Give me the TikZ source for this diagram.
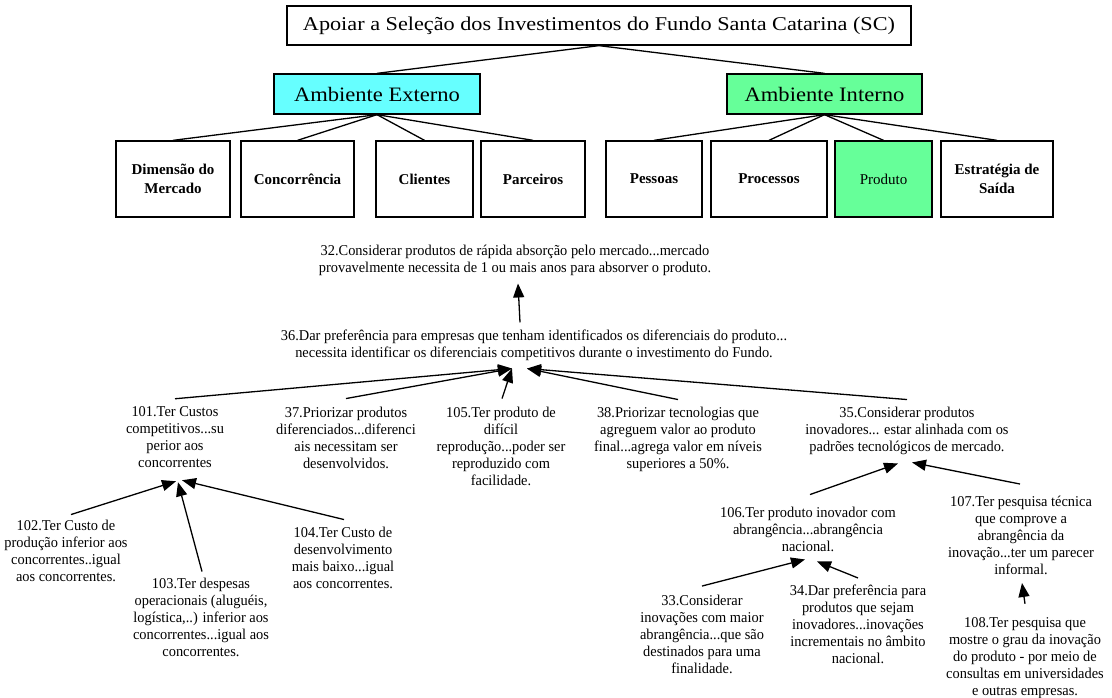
\documentclass[tikz,border=0pt]{standalone}
\usepackage{fontspec}
\setmainfont{Liberation Serif}
\newfontfamily\condfont{Liberation Serif}[FakeStretch=0.96]
\newfontfamily\widefont{Liberation Serif}[FakeStretch=1.1]
\newfontfamily\headfont{Liberation Serif}[FakeStretch=1.14]
\usetikzlibrary{arrows.meta}
\definecolor{extcyan}{HTML}{66FFFF}
\definecolor{intgreen}{HTML}{66FF99}
\tikzset{
  frame/.style={draw, line width=1.3pt, inner sep=0pt, align=center},
  headbox/.style={frame, font=\headfont\fontsize{19.5}{22}\selectfont},
  groupbox/.style={frame, minimum height=40pt, font=\widefont\fontsize{20.5}{23}\selectfont},
  leafbox/.style={frame, minimum height=76pt, font=\bfseries\fontsize{15}{19}\selectfont},
  note/.style={align=center, inner sep=0pt,
    font=\condfont\fontsize{15}{17}\selectfont,
    execute at begin node=\strut, execute at end node=\strut},
  link/.style={line width=1.3pt},
  arr/.style={line width=1.3pt, -{Triangle[length=14pt,width=11pt]}}
}
\begin{document}
\begin{tikzpicture}[x=1pt,y=-1pt]
\useasboundingbox[fill=white] (0,0) rectangle (1112,698);

% hierarchy of boxes
\node[headbox, minimum width=624pt, minimum height=39pt] (goal) at (599,25.5)
  {Apoiar a Seleção dos Investimentos do Fundo Santa Catarina (SC)};
\node[groupbox, fill=extcyan, minimum width=206pt] (ext) at (377,94) {Ambiente Externo};
\node[groupbox, fill=intgreen, minimum width=195pt] (int) at (824.5,94) {Ambiente Interno};

\node[leafbox, minimum width=114pt] (dim) at (173,179) {Dimensão do\\Mercado};
\node[leafbox, minimum width=113pt] (conc) at (297.5,179) {Concorrência};
\node[leafbox, minimum width=97pt] (cli) at (424.5,179) {Clientes};
\node[leafbox, minimum width=104pt] (parc) at (533,179) {Parceiros};
\node[leafbox, minimum width=96pt] (pess) at (654,179) {Pessoas};
\node[leafbox, minimum width=116pt] (proc) at (769,179) {Processos};
\node[leafbox, minimum width=97pt, fill=intgreen, font=\fontsize{15}{19}\selectfont] (prod) at (883.5,179) {Produto};
\node[leafbox, minimum width=112pt] (estr) at (997,179) {Estratégia de\\Saída};

\draw[link] (goal.south) -- (ext.north);
\draw[link] (goal.south) -- (int.north);
\foreach \t in {dim,conc,cli,parc} \draw[link] (ext.south) -- (\t.north);
\foreach \t in {pess,proc,prod,estr} \draw[link] (int.south) -- (\t.north);

% means-ends network
\node[note] (n32) at (515,261) {32.Considerar produtos de rápida absorção pelo mercado...mercado\\provavelmente necessita de 1 ou mais anos para absorver o produto.};
\node[note] (n36) at (534,346) {36.Dar preferência para empresas que tenham identificados os diferenciais do produto...\\necessita identificar os diferenciais competitivos durante o investimento do Fundo.};

\node[note] (n101) at (175,440) {101.Ter Custos\\competitivos...su\\perior aos\\concorrentes};
\node[note] (n37) at (346,440) {37.Priorizar produtos\\diferenciados...diferenci\\ais necessitam ser\\desenvolvidos.};
\node[note] (n105) at (501,448.5) {105.Ter produto de\\difícil\\reprodução...poder ser\\reproduzido com\\facilidade.};
\node[note] (n38) at (678,440) {38.Priorizar tecnologias que\\agreguem valor ao produto\\final...agrega valor em níveis\\superiores a 50\%.};
\node[note] (n35) at (907,431.5) {35.Considerar produtos\\inovadores... estar alinhada com os\\padrões tecnológicos de mercado.};

\node[note] (n102) at (66,553) {102.Ter Custo de\\produção inferior aos\\concorrentes..igual\\aos concorrentes.};
\node[note] (n103) at (201,619.5) {103.Ter despesas\\operacionais (aluguéis,\\logística,..) inferior aos\\concorrentes...igual aos\\concorrentes.};
\node[note] (n104) at (343,560) {104.Ter Custo de\\desenvolvimento\\mais baixo...igual\\aos concorrentes.};

\node[note] (n106) at (808,531.5) {106.Ter produto inovador com\\abrangência...abrangência\\nacional.};
\node[note] (n107) at (1021,538) {107.Ter pesquisa técnica\\que comprove a\\abrangência da\\inovação...ter um parecer\\informal.};
\node[note] (n33) at (702,637) {33.Considerar\\inovações com maior\\abrangência...que são\\destinados para uma\\finalidade.};
\node[note] (n34) at (858,627) {34.Dar preferência para\\produtos que sejam\\inovadores...inovações\\incrementais no âmbito\\nacional.};
\node[note] (n108) at (1025,659.5) {108.Ter pesquisa que\\mostre o grau da inovação\\do produto - por meio de\\consultas em universidades\\e outras empresas.};

% arrows: from a means up to the end it serves
\draw[arr] ([xshift=-14pt,yshift=7pt]n36.north) -- ([xshift=3pt,yshift=-6pt]n32.south);

\draw[arr] ([yshift=8pt]n101.north) -- ([xshift=-22pt,yshift=-6pt]n36.south);
\draw[arr] ([yshift=8pt]n37.north) -- ([xshift=-22pt,yshift=-6pt]n36.south);
\draw[arr] ([xshift=1pt,yshift=8pt]n105.north) -- ([xshift=-22pt,yshift=-6pt]n36.south);
\draw[arr] ([yshift=7pt]n38.north) -- ([xshift=-7pt,yshift=-6pt]n36.south);
\draw[arr] ([yshift=7pt]n35.north) -- ([xshift=-7pt,yshift=-6pt]n36.south);

\draw[arr] ([xshift=5pt,yshift=5pt]n102.north) -- ([xshift=1pt,yshift=-8pt]n101.south);
\draw[arr] ([xshift=1pt,yshift=6pt]n103.north) -- ([xshift=3pt,yshift=-9pt]n101.south);
\draw[arr] ([xshift=1pt,yshift=7pt]n104.north) -- ([xshift=7pt,yshift=-7pt]n101.south);

\draw[arr] ([xshift=2pt,yshift=12pt]n106.north) -- ([xshift=-9pt,yshift=-7pt]n35.south);
\draw[arr] ([xshift=-1pt,yshift=12pt]n107.north) -- ([xshift=5pt,yshift=-6pt]n35.south);

\draw[arr] ([yshift=9pt]n33.north) -- ([xshift=-3pt,yshift=-3pt]n106.south);
\draw[arr] ([yshift=7pt]n34.north) -- ([xshift=9pt,yshift=-5pt]n106.south);

\draw[arr] ([yshift=14pt]n108.north) -- ([xshift=1pt,yshift=-3pt]n107.south);
\end{tikzpicture}
\end{document}
